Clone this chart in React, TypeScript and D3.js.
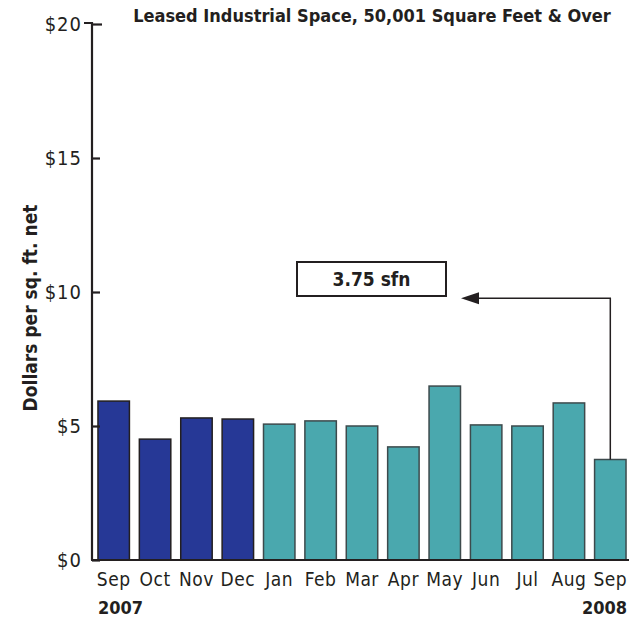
import { useEffect, useRef } from 'react';
import * as d3 from 'd3';

// Leased industrial space, 50,001 sq ft & over — dollars per sq. ft. net
const months = ['Sep', 'Oct', 'Nov', 'Dec', 'Jan', 'Feb', 'Mar', 'Apr', 'May', 'Jun', 'Jul', 'Aug', 'Sep'];
const years = [2007, 2007, 2007, 2007, 2008, 2008, 2008, 2008, 2008, 2008, 2008, 2008, 2008];
const rates = [5.93, 4.51, 5.3, 5.26, 5.07, 5.19, 5.0, 4.22, 6.49, 5.04, 5.0, 5.86, 3.75];
const yTicks = [0, 5, 10, 15, 20];
const calloutText = '3.75 sfn';

const WIDTH = 637;
const HEIGHT = 624;
const FONT = "'DejaVu Sans Condensed', 'Liberation Sans Narrow', 'Liberation Sans', Arial, sans-serif";

export default function App() {
  const svgRef = useRef<SVGSVGElement>(null);

  useEffect(() => {
    if (!svgRef.current) return;
    const svg = d3.select(svgRef.current);
    svg.selectAll('*').remove();

    const keys = months.map((m, i) => `${m}-${i}`);

    const x = d3
      .scaleBand<string>()
      .domain(keys)
      .range([93, 631])
      .paddingInner(0.24)
      .paddingOuter(0.12);

    const y = d3.scaleLinear().domain([0, 20]).range([560, 24]);

    // Title
    svg
      .append('text')
      .attr('x', 372)
      .attr('y', 22)
      .attr('text-anchor', 'middle')
      .attr('font-family', FONT)
      .attr('font-weight', 'bold')
      .attr('font-size', '18px')
      .attr('fill', '#231f20')
      .text('Leased Industrial Space, 50,001  Square Feet & Over');

    // Y axis title
    svg
      .append('text')
      .attr('transform', 'translate(37,308) rotate(-90)')
      .attr('text-anchor', 'middle')
      .attr('font-family', FONT)
      .attr('font-weight', 'bold')
      .attr('font-size', '19px')
      .attr('fill', '#231f20')
      .text('Dollars per sq. ft. net');

    // Bars
    svg
      .append('g')
      .selectAll('rect')
      .data(rates)
      .enter()
      .append('rect')
      .attr('x', (_, i) => x(keys[i]) as number)
      .attr('y', (d) => y(d))
      .attr('width', x.bandwidth())
      .attr('height', (d) => y(0) - y(d))
      .attr('fill', (_, i) => (years[i] === 2007 ? '#263896' : '#4aa8ae'))
      .attr('stroke', (_, i) => (years[i] === 2007 ? '#231f20' : '#3d4a4c'))
      .attr('stroke-width', 1.5);

    // Y axis
    const yAxis = svg
      .append('g')
      .attr('transform', 'translate(92,0)')
      .call(
        d3
          .axisLeft(y)
          .tickValues(yTicks)
          .tickSize(-8)
          .tickPadding(10)
          .tickFormat((d) => `$${d}`),
      );
    yAxis.select('.domain').attr('d', `M-8,${y(20) - 1}H0V${y(0)}`).attr('stroke', '#231f20').attr('stroke-width', 2.2);
    yAxis.selectAll('.tick line').attr('stroke', '#231f20').attr('stroke-width', 2.2);
    yAxis
      .selectAll('.tick text')
      .attr('font-family', FONT)
      .attr('font-size', '20px')
      .attr('letter-spacing', '1px')
      .attr('fill', '#231f20');
    yAxis.select('.tick:last-of-type line').attr('x2', 10);

    // X axis
    const xAxis = svg
      .append('g')
      .attr('transform', `translate(0,${y(0)})`)
      .call(
        d3
          .axisBottom(x)
          .tickSize(0)
          .tickPadding(13)
          .tickFormat((_, i) => months[i]),
      );
    xAxis.select('.domain').attr('d', `M91,0H636`).attr('stroke', '#231f20').attr('stroke-width', 2.2);
    xAxis
      .selectAll('.tick text')
      .attr('font-family', FONT)
      .attr('font-size', '19px')
      .attr('letter-spacing', '0.5px')
      .attr('fill', '#231f20');

    // Year labels
    const first = x(keys[0]) as number;
    const last = (x(keys[keys.length - 1]) as number) + x.bandwidth();
    svg
      .append('text')
      .attr('x', first)
      .attr('y', 614)
      .attr('font-family', FONT)
      .attr('font-weight', 'bold')
      .attr('font-size', '18px')
      .attr('fill', '#231f20')
      .text('2007');
    svg
      .append('text')
      .attr('x', last + 1)
      .attr('y', 614)
      .attr('text-anchor', 'end')
      .attr('font-family', FONT)
      .attr('font-weight', 'bold')
      .attr('font-size', '18px')
      .attr('fill', '#231f20')
      .text('2008');

    // Callout box
    const boxY = y(9.77);
    svg
      .append('rect')
      .attr('x', 297)
      .attr('y', 262)
      .attr('width', 149)
      .attr('height', 34)
      .attr('fill', '#fff')
      .attr('stroke', '#231f20')
      .attr('stroke-width', 2);
    svg
      .append('text')
      .attr('x', 371.5)
      .attr('y', 286)
      .attr('text-anchor', 'middle')
      .attr('font-family', FONT)
      .attr('font-weight', 'bold')
      .attr('font-size', '19px')
      .attr('fill', '#231f20')
      .text(calloutText);

    // Arrow from last bar to callout
    const lastIdx = rates.length - 1;
    const arrowX = (x(keys[lastIdx]) as number) + x.bandwidth() * 0.5;
    svg
      .append('path')
      .attr('d', `M${arrowX},${y(rates[lastIdx])}V${boxY}H476`)
      .attr('fill', 'none')
      .attr('stroke', '#231f20')
      .attr('stroke-width', 1.5);
    svg
      .append('path')
      .attr('d', `M461,${boxY}L479,${boxY - 6}L479,${boxY + 6}Z`)
      .attr('fill', '#231f20');
  }, []);

  return (
    <div>
      <svg ref={svgRef} width={WIDTH} height={HEIGHT} style={{ display: 'block', background: '#fff', marginLeft: -8, marginTop: -8 }} />
    </div>
  );
}
